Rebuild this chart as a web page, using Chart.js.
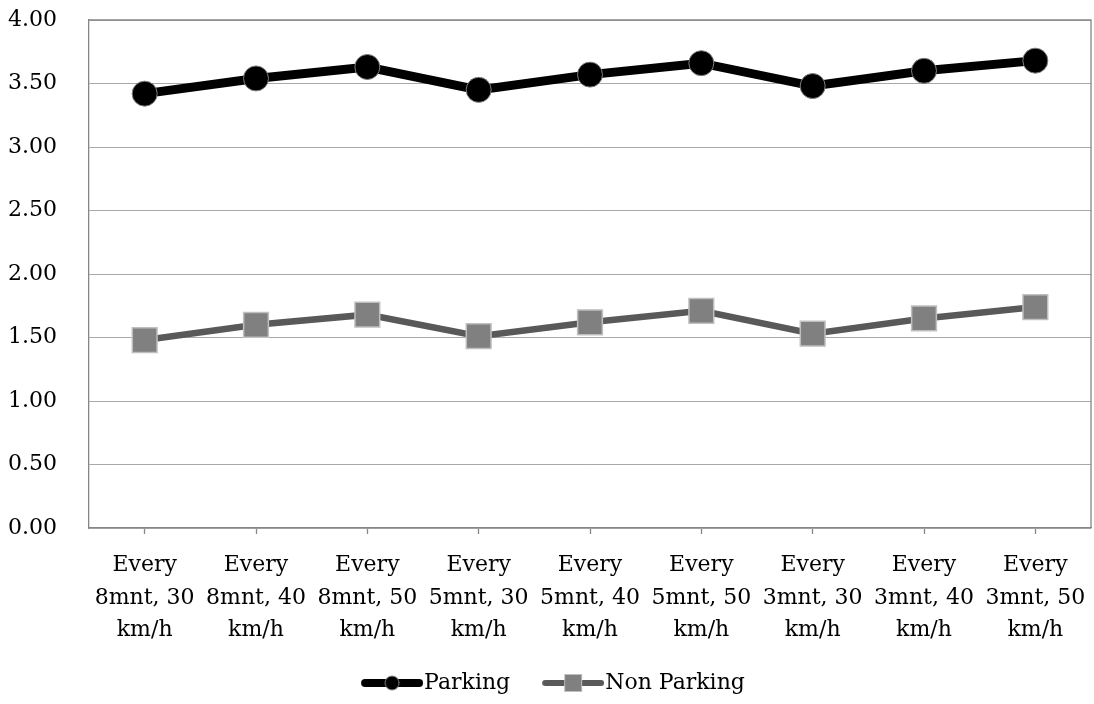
<!DOCTYPE html>
<html>
<head>
<meta charset="utf-8">
<title>Parking vs Non Parking</title>
<script src="https://cdn.jsdelivr.net/npm/chart.js@4/dist/chart.umd.min.js"></script>
<style>
  html, body { margin: 0; padding: 0; background: #ffffff; }
  canvas { display: block; }
</style>
</head>
<body>
<canvas id="chart" width="1094" height="704"></canvas>
<script>
// Service scenarios (headway, speed), one multi-line label each
const categories = [
  ['Every', '8mnt, 30', 'km/h'],
  ['Every', '8mnt, 40', 'km/h'],
  ['Every', '8mnt, 50', 'km/h'],
  ['Every', '5mnt, 30', 'km/h'],
  ['Every', '5mnt, 40', 'km/h'],
  ['Every', '5mnt, 50', 'km/h'],
  ['Every', '3mnt, 30', 'km/h'],
  ['Every', '3mnt, 40', 'km/h'],
  ['Every', '3mnt, 50', 'km/h']
];

const parkingValues    = [3.42, 3.54, 3.63, 3.45, 3.57, 3.66, 3.48, 3.60, 3.68];
const nonParkingValues = [1.48, 1.60, 1.68, 1.51, 1.62, 1.71, 1.53, 1.65, 1.74];

const seriesNames = ['Parking', 'Non Parking'];
const yTickLabels = ['0.00', '0.50', '1.00', '1.50', '2.00', '2.50', '3.00', '3.50', '4.00'];

const FONT = 'DejaVu Serif';
const FONT_SIZE = 22;
const AXIS_GRAY = '#868686';

// Legend icons: a short thick line with the series marker in the middle
function makeLegendIcon(kind) {
  const c = document.createElement('canvas');
  c.width = 84; c.height = 26;
  const g = c.getContext('2d');
  g.lineCap = 'round';
  if (kind === 'circle') {
    g.strokeStyle = '#000000';
    g.lineWidth = 8;
    g.beginPath(); g.moveTo(26, 13); g.lineTo(80, 13); g.stroke();
    g.fillStyle = '#000000';
    g.beginPath(); g.arc(53, 13, 7, 0, Math.PI * 2); g.fill();
    g.strokeStyle = '#7f7f7f'; g.lineWidth = 1;
    g.stroke();
  } else {
    g.strokeStyle = '#595959';
    g.lineWidth = 6;
    g.beginPath(); g.moveTo(25, 13); g.lineTo(81, 13); g.stroke();
    g.fillStyle = '#808080';
    g.fillRect(44, 4, 18, 18);
    g.strokeStyle = '#bfbfbf'; g.lineWidth = 1;
    g.strokeRect(44.5, 4.5, 17, 17);
  }
  return c;
}
const legendIcons = [makeLegendIcon('circle'), makeLegendIcon('rect')];

// Top and right edges of the plot frame
const frameEdges = {
  id: 'frameEdges',
  beforeDatasetsDraw(chart) {
    const { ctx, chartArea: a } = chart;
    ctx.save();
    ctx.strokeStyle = AXIS_GRAY;
    ctx.lineWidth = 1.3;
    ctx.beginPath();
    ctx.moveTo(a.left, a.top);
    ctx.lineTo(a.right, a.top);
    ctx.lineTo(a.right, a.bottom);
    ctx.stroke();
    ctx.restore();
  }
};

Chart.defaults.font.family = FONT;
Chart.defaults.font.size = FONT_SIZE;
Chart.defaults.color = '#000000';

new Chart(document.getElementById('chart'), {
  type: 'line',
  data: {
    labels: categories,
    datasets: [
      {
        label: seriesNames[0],
        data: parkingValues,
        borderColor: '#000000',
        borderWidth: 9,
        pointStyle: 'circle',
        pointRadius: 12.5,
        pointBackgroundColor: '#000000',
        pointBorderColor: '#7f7f7f',
        pointBorderWidth: 1,
        tension: 0,
        fill: false
      },
      {
        label: seriesNames[1],
        data: nonParkingValues,
        borderColor: '#595959',
        borderWidth: 6.5,
        pointStyle: 'rect',
        pointRadius: 17.5,
        pointBackgroundColor: '#808080',
        pointBorderColor: '#bfbfbf',
        pointBorderWidth: 1.5,
        tension: 0,
        fill: false
      }
    ]
  },
  options: {
    responsive: false,
    animation: false,
    devicePixelRatio: 1,
    layout: { padding: 0, autoPadding: false },
    scales: {
      x: {
        type: 'category',
        offset: true,
        grid: {
          offset: false,
          drawOnChartArea: false,
          drawTicks: true,
          tickLength: 6,
          tickColor: AXIS_GRAY,
          tickWidth: 1.3
        },
        border: { color: AXIS_GRAY, width: 1.3 },
        ticks: {
          maxRotation: 0,
          minRotation: 0,
          autoSkip: false,
          padding: 15,
          font: { family: FONT, size: FONT_SIZE, lineHeight: 1.48 },
          color: '#000000'
        },
        afterFit(scale) {
          scale.height = 124;
          scale.paddingLeft = 0;
          scale.paddingRight = 3;
        }
      },
      y: {
        min: 0,
        max: 4,
        grid: {
          color: '#a9a9a9',
          lineWidth: 1,
          drawTicks: false
        },
        border: { color: AXIS_GRAY, width: 1.3 },
        ticks: {
          stepSize: 0.5,
          padding: 32,
          font: { family: FONT, size: FONT_SIZE },
          color: '#000000',
          callback: (value, index) => yTickLabels[index]
        },
        afterFit(scale) {
          scale.width = 89;
          scale.paddingTop = 20;
          scale.paddingBottom = 0;
        }
      }
    },
    plugins: {
      legend: {
        position: 'bottom',
        labels: {
          usePointStyle: true,
          pointStyleWidth: 64,
          padding: 20,
          color: '#000000',
          font: { family: FONT, size: FONT_SIZE },
          generateLabels(chart) {
            const items = Chart.defaults.plugins.legend.labels.generateLabels(chart);
            items.forEach((item, i) => { item.pointStyle = legendIcons[i]; item.rotation = 0; });
            return items;
          }
        }
      },
      tooltip: { enabled: false }
    }
  },
  plugins: [frameEdges]
});
</script>
</body>
</html>
